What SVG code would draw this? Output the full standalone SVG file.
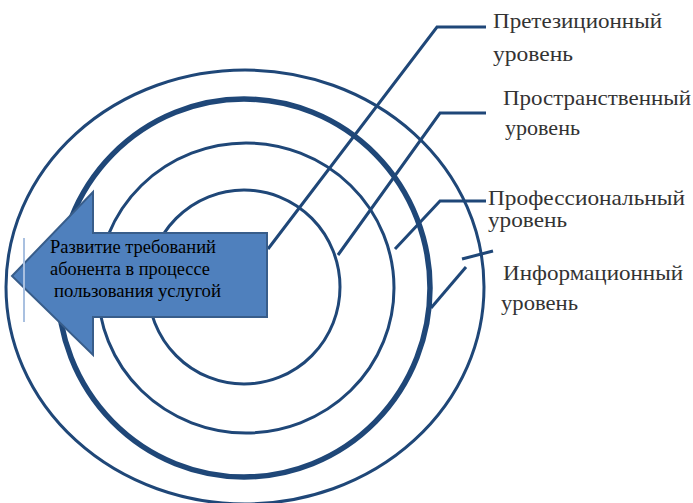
<svg xmlns="http://www.w3.org/2000/svg" width="693" height="503" viewBox="0 0 693 503">
<style>
.ring{fill:none;stroke:#1f4778;stroke-width:3}
.lead{fill:none;stroke:#1f4778;stroke-width:3}
.lbl{font-family:"Liberation Serif","DejaVu Serif",serif;font-size:21px;fill:#333}
.atx{font-family:"Liberation Serif","DejaVu Serif",serif;font-size:18px;fill:#000}
</style>
<rect width="693" height="503" fill="#fff"/>
<g id="rings">
<ellipse id="ring-outer" class="ring" cx="245" cy="287" rx="239" ry="217"/>
<ellipse id="ring-thick" class="ring" cx="244" cy="288" rx="186" ry="189" style="stroke-width:5.5"/>
<ellipse id="ring-third" class="ring" cx="246" cy="288" rx="148" ry="145"/>
<ellipse id="ring-inner" class="ring" cx="244" cy="287" rx="96" ry="97"/>
</g>
<g id="connectors">
<polyline class="lead" points="486,27 437,27 268,249"/>
<polyline class="lead" points="486,113 440,113 338,255"/>
<polyline class="lead" points="486,201 440,201 395,249"/>
<line class="lead" x1="462" y1="259" x2="493" y2="251"/>
<line class="lead" x1="466" y1="267" x2="431" y2="308"/>
</g>
<g id="arrow">
<polygon points="267,233 93,233 93,192 12,276 93,355 93,317 267,317" fill="#4f80bd" stroke="#385d8a" stroke-width="2"/>
<line x1="24" y1="238" x2="24" y2="322" stroke="#a9c0e0" stroke-width="2"/>
<text class="atx" x="50" y="253" textLength="166" lengthAdjust="spacingAndGlyphs">Развитие требований</text>
<text class="atx" x="50" y="275" textLength="160" lengthAdjust="spacingAndGlyphs">абонента в процессе</text>
<text class="atx" x="54" y="297" textLength="167" lengthAdjust="spacingAndGlyphs">пользования услугой</text>
</g>
<g id="label-1">
<text class="lbl" x="493" y="28" textLength="169" lengthAdjust="spacingAndGlyphs">Претезиционный</text>
<text class="lbl" x="493" y="61" textLength="80" lengthAdjust="spacingAndGlyphs">уровень</text>
</g>
<g id="label-2">
<text class="lbl" x="503" y="105" textLength="188" lengthAdjust="spacingAndGlyphs">Пространственный</text>
<text class="lbl" x="505" y="135" textLength="75" lengthAdjust="spacingAndGlyphs">уровень</text>
</g>
<g id="label-3">
<text class="lbl" x="488" y="205" textLength="197" lengthAdjust="spacingAndGlyphs">Профессиональный</text>
<text class="lbl" x="488" y="227" textLength="79" lengthAdjust="spacingAndGlyphs">уровень</text>
</g>
<g id="label-4">
<text class="lbl" x="503" y="280" textLength="180" lengthAdjust="spacingAndGlyphs">Информационный</text>
<text class="lbl" x="501" y="310" textLength="77" lengthAdjust="spacingAndGlyphs">уровень</text>
</g>
</svg>
